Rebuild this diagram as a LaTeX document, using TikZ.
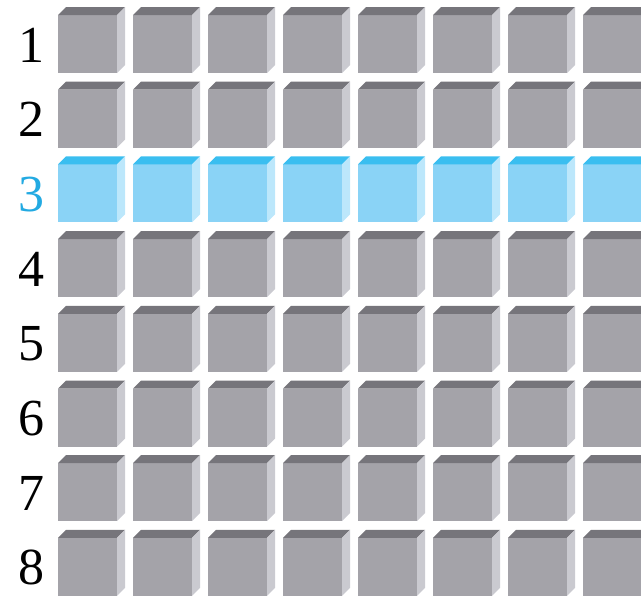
\documentclass[tikz,border=0pt]{standalone}
\usepackage{fontspec}
\setmainfont{Liberation Serif}
\definecolor{grayF}{RGB}{164,163,169}
\definecolor{grayT}{RGB}{118,117,123}
\definecolor{grayS}{RGB}{202,202,208}
\definecolor{blueF}{RGB}{138,211,246}
\definecolor{blueT}{RGB}{58,190,240}
\definecolor{blueS}{RGB}{188,231,251}
\definecolor{selnum}{RGB}{35,170,226}
\usepackage{tikz}
\begin{document}
\begin{tikzpicture}[x=1pt,y=-1pt,
      num/.style={font=\fontsize{52}{52}\selectfont,anchor=center,inner sep=0pt}]
  \useasboundingbox (0,0) rectangle (641,600);
  \clip (0,0) rectangle (641,600);
  \foreach \j/\cl/\tc in {1/gray/black,2/gray/black,3/blue/selnum,4/gray/black,
                          5/gray/black,6/gray/black,7/gray/black,8/gray/black} {
    \pgfmathsetmacro\y{15+74.7*(\j-1)}
    \node[num,text=\tc] (r\j) at (31,\y+30) {\j};
    \foreach \i in {0,...,7} {
      \pgfmathsetmacro\x{58+75*\i}
      \fill[\cl F] (\x,\y) rectangle ++(59,58);
      \fill[\cl T] (\x,\y) -- ++(8,-8) -- ++(59,0) -- ++(-8,8) -- cycle;
      \fill[\cl S] (\x+59,\y) -- ++(8,-8) -- ++(0,58) -- ++(-8,8) -- cycle;
    }
  }
\end{tikzpicture}
\end{document}
